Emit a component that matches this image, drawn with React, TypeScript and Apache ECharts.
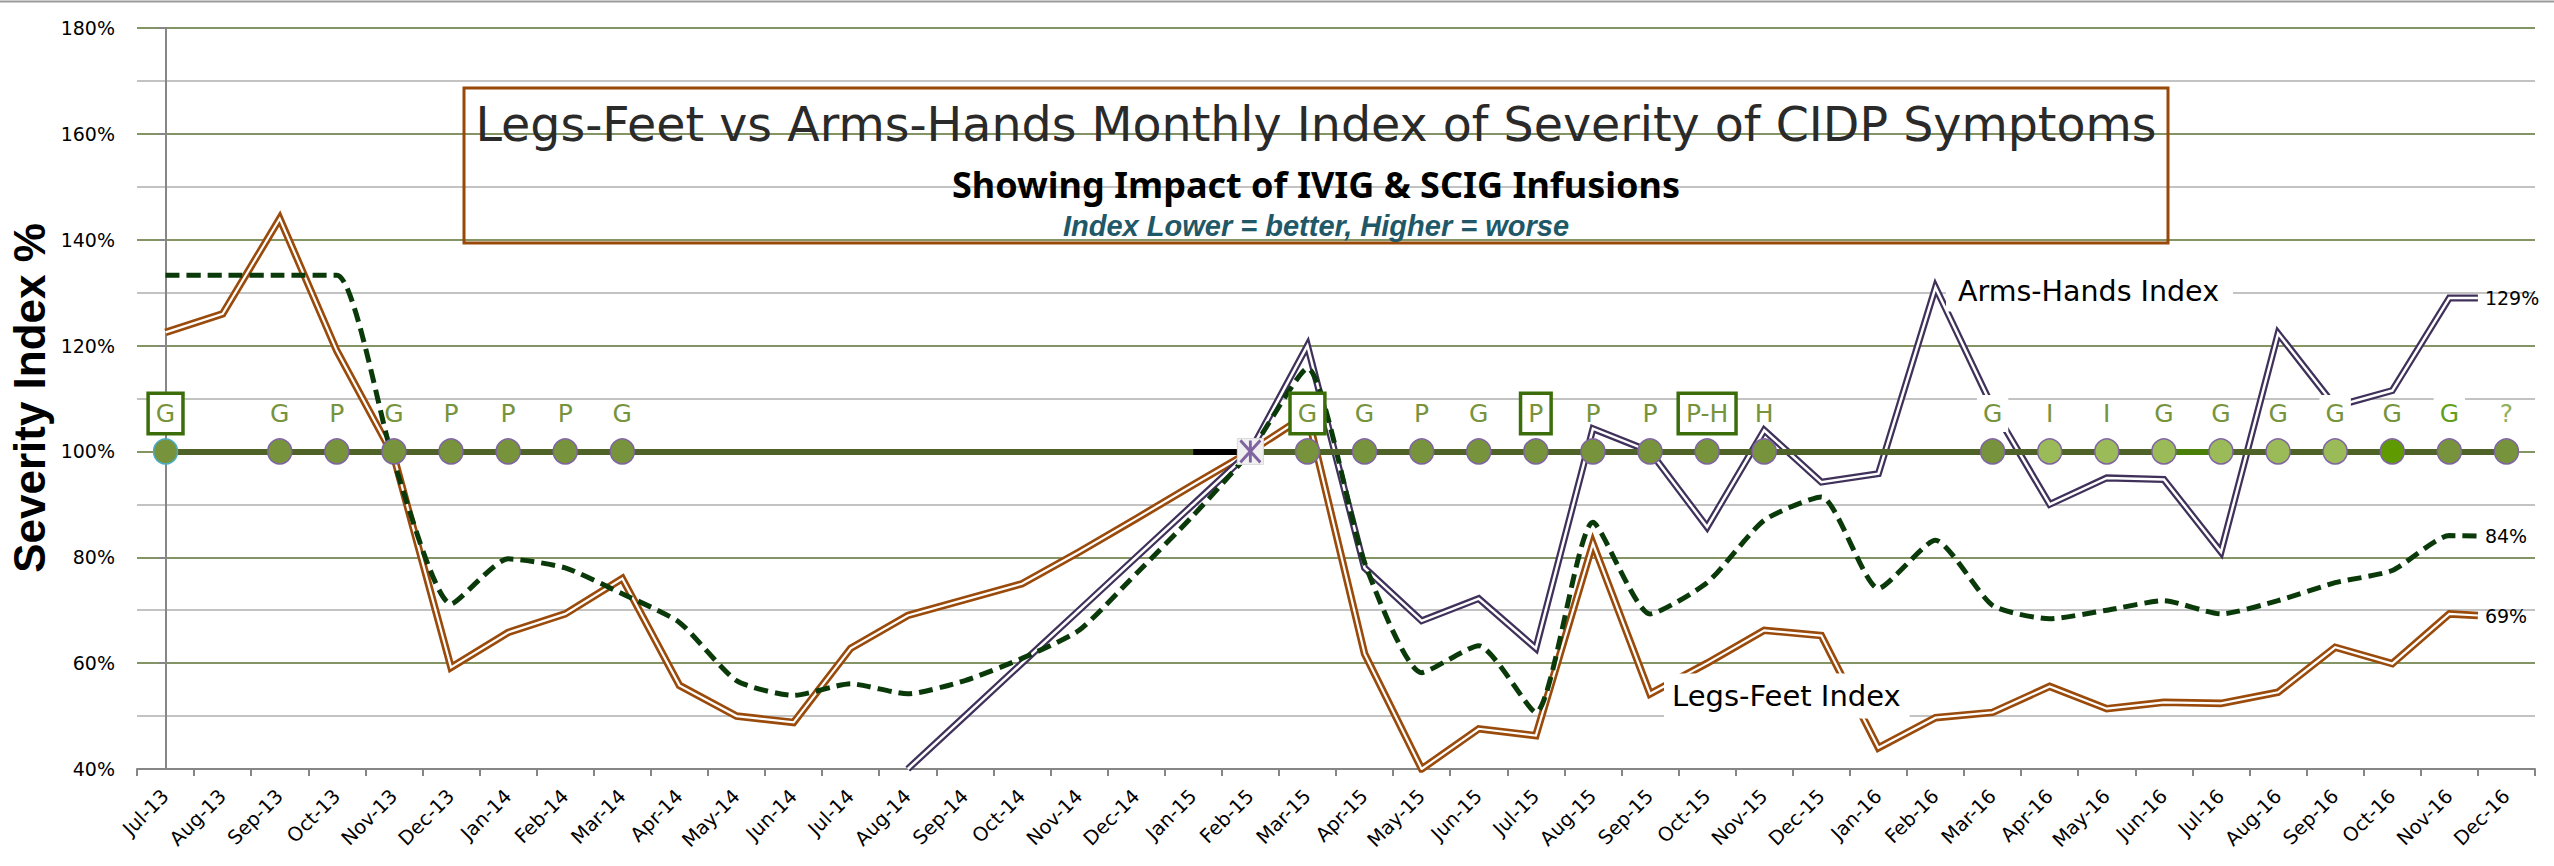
import { useEffect, useRef } from 'react';
import * as echarts from 'echarts';

// ---------- data ----------
const months = [
  'Jul-13', 'Aug-13', 'Sep-13', 'Oct-13', 'Nov-13', 'Dec-13',
  'Jan-14', 'Feb-14', 'Mar-14', 'Apr-14', 'May-14', 'Jun-14', 'Jul-14', 'Aug-14', 'Sep-14', 'Oct-14', 'Nov-14', 'Dec-14',
  'Jan-15', 'Feb-15', 'Mar-15', 'Apr-15', 'May-15', 'Jun-15', 'Jul-15', 'Aug-15', 'Sep-15', 'Oct-15', 'Nov-15', 'Dec-15',
  'Jan-16', 'Feb-16', 'Mar-16', 'Apr-16', 'May-16', 'Jun-16', 'Jul-16', 'Aug-16', 'Sep-16', 'Oct-16', 'Nov-16', 'Dec-16',
];

const legsFeet = [
  122.5, 126, 144, 119, 99, 59.2,
  65.8, 69.3, 76, 55.8, 50, 48.8, 62.8, 69, 72, 75, 81, 87.3,
  93.7, 100, 107, 61.8, 40, 47.6, 46.3, 82.6, 54.2, 60, 66.2, 65.2,
  44, 49.7, 50.7, 55.6, 51.4, 52.6, 52.4, 54.5, 63, 59.9, 69.3, 69,
];

const armsHands = [
  null, null, null, null, null, null,
  null, null, null, null, null, null, null, 40, 50, 60, 70, 80,
  90, 100, 120, 78, 68, 72.2, 62.8, 104.3, 100, 85.7, 104, 94.2,
  95.8, 131, 108.3, 90, 95, 94.7, 81, 122.3, 108.5, 111.5, 129, 129,
];

const overallIndex = [
  133.3, 133.3, 133.3, 133.3, 98, 71.2,
  79.7, 78, 73.1, 67.7, 56.7, 53.9, 56.1, 54.2, 56.7, 60.9, 66.2, 76.9,
  87.9, 100, 115.7, 79, 58.2, 63.3, 50.7, 86.6, 69.3, 75.2, 87, 91.4,
  74.1, 83.2, 70.9, 68.4, 70, 71.8, 69.3, 71.8, 75.2, 77.5, 84.1, 84,
];

// infusion codes shown above the 100% baseline ('' = no infusion marker)
const infusionCodes = [
  'G', '', 'G', 'P', 'G', 'P',
  'P', 'P', 'G', '', '', '', '', '', '', '', '', '',
  '', '', 'G', 'G', 'P', 'G', 'P', 'P', 'P', 'P-H', 'H', '',
  '', '', 'G', 'I', 'I', 'G', 'G', 'G', 'G', 'G', 'G', '?',
];
const boxedMonths = ['Jul-13', 'Mar-15', 'Jul-15', 'Oct-15'];
const whiteBgMonths = ['Mar-16', 'Sep-16', 'Nov-16'];
const transitionMonth = 'Feb-15';
const baselineLevel = 100;
const yTicks = { min: 40, max: 180, step: 20 };

// ---------- styles ----------
const FONT = "'DejaVu Sans', sans-serif";
const BROWN = '#9A4B0B';
const PURPLE = '#40315A';
const DASH = '#0A3A0A';
const OLIVE = '#4F6228';
const LETTER = '#77933C';

const markerFill: Record<string, string> = {
  'Apr-16': '#9BBB59', 'May-16': '#9BBB59', 'Jun-16': '#9BBB59',
  'Jul-16': '#9BBB59', 'Aug-16': '#9BBB59', 'Sep-16': '#9BBB59',
  'Oct-16': '#5F9A00',
};
const markerBorder: Record<string, string> = { 'Jul-13': '#4BACC6' };
const letterColor: Record<string, string> = { 'Nov-16': '#62A01A', 'Dec-16': '#93B060' };

function toLinePoints(values: (number | null)[]) {
  const pts: [number, number][] = [];
  const n = values.length;
  values.forEach((v, i) => {
    if (v != null && i < n - 1) pts.push([i, v]);
  });
  // last month's value ends the line half a category early (as in the reference)
  pts.push([n - 1.5, values[n - 1] as number]);
  return pts;
}

const endLabel = {
  show: true, distance: 7, color: '#000', fontSize: 19, fontFamily: FONT,
  formatter: (p: any) => `${Math.round(p.value[1])}%`,
};

function doubleLine(name: string, values: (number | null)[], color: string, outer: number, inner: number) {
  const data = toLinePoints(values);
  return [
    {
      name, type: 'line', xAxisIndex: 1, data, symbol: 'none', z: 3,
      lineStyle: { color, width: outer, join: 'miter' },
      endLabel,
    },
    {
      name: name + ' core', type: 'line', xAxisIndex: 1, data, symbol: 'none', z: 3,
      lineStyle: { color: '#fff', width: inner, join: 'miter' },
    },
  ];
}

export default function App() {
  const ref = useRef<HTMLDivElement>(null);

  useEffect(() => {
    if (!ref.current) return;
    const chart = echarts.init(ref.current, null, { renderer: 'svg' });

    const markerData = months
      .map((m, i) => ({ m, code: infusionCodes[i] }))
      .filter((d) => d.code)
      .map(({ m, code }) => {
        const boxed = boxedMonths.includes(m);
        const whiteBg = whiteBgMonths.includes(m);
        return {
          value: [m, baselineLevel],
          itemStyle: {
            color: markerFill[m] || '#77933C',
            borderColor: markerBorder[m] || '#8064A2',
            borderWidth: 1.5,
            opacity: 1,
          },
          label: {
            show: true,
            formatter: code,
            position: 'inside',
            offset: [0, -38],
            color: letterColor[m] || LETTER,
            fontSize: 25,
            fontFamily: FONT,
            padding: [6, 6, 6, 6],
            backgroundColor: boxed || whiteBg ? '#fff' : 'transparent',
            borderColor: boxed ? '#3B6E0A' : 'transparent',
            borderWidth: boxed ? 3.5 : 0,
          },
        };
      });

    const option: any = {
      animation: false,
      backgroundColor: '#fff',
      grid: { left: 137, right: 19, top: 28, bottom: 97, containLabel: false },
      xAxis: [
        {
          type: 'category', data: months, boundaryGap: true,
          axisLine: { onZero: false, lineStyle: { color: '#868686', width: 2 } },
          axisTick: { show: true, interval: 0, length: 7, lineStyle: { color: '#868686', width: 2 } },
          axisLabel: { interval: 0, rotate: 45, margin: 24, fontSize: 19.5, color: '#000', fontFamily: FONT },
          splitLine: { show: false },
        },
        { type: 'value', min: -0.5, max: months.length - 0.5, show: false },
      ],
      yAxis: {
        type: 'value', min: yTicks.min, max: yTicks.max, interval: yTicks.step,
        axisLine: { show: true, lineStyle: { color: '#868686', width: 2 } },
        axisTick: { show: true, length: 7, lineStyle: { color: '#868686', width: 2 } },
        axisLabel: { formatter: '{value}%', fontSize: 19, margin: 22, color: '#000', fontFamily: FONT },
        splitLine: { show: true, lineStyle: { color: '#5C7032', width: 1.5 } },
        minorTick: { show: false, splitNumber: 2 },
        minorSplitLine: { show: true, lineStyle: { color: '#C3C3C3', width: 2 } },
      },
      series: [
        {
          name: 'Baseline', type: 'scatter', data: [], z: 2, silent: true,
          markLine: {
            silent: true, symbol: 'none', label: { show: false },
            lineStyle: { type: 'solid', color: OLIVE, width: 6 },
            data: [
              [{ coord: [months[0], baselineLevel] }, { coord: [months[months.length - 1], baselineLevel] }],
              [{ coord: ['Jan-15', baselineLevel], lineStyle: { color: '#000', width: 6, type: 'solid' } }, { coord: ['Feb-15', baselineLevel] }],
              [{ coord: ['Jun-16', baselineLevel], lineStyle: { color: '#4A800A', width: 6, type: 'solid' } }, { coord: ['Jul-16', baselineLevel] }],
            ],
          },
        },
        ...doubleLine('Legs-Feet Index', legsFeet, BROWN, 7.5, 2.2),
        ...doubleLine('Arms-Hands Index', armsHands, PURPLE, 7, 2.5),
        {
          name: 'Overall Index', type: 'line', xAxisIndex: 1, data: toLinePoints(overallIndex),
          symbol: 'none', smooth: 0.2, z: 3,
          lineStyle: { color: DASH, width: 5, type: [14, 7] },
          endLabel,
        },
        {
          name: 'Infusions', type: 'scatter', symbol: 'circle', symbolSize: [24, 25], z: 5,
          data: markerData,
        },
        {
          name: 'Transition bg', type: 'scatter', symbol: 'rect', symbolSize: 26, z: 5,
          itemStyle: { color: '#F0F0F0', borderColor: '#DADADA', borderWidth: 1, opacity: 1 },
          data: [[transitionMonth, baselineLevel]],
        },
        {
          name: 'Transition', type: 'scatter', symbol: 'path://M0 0L20 22M20 0L0 22M10 0L10 22',
          symbolSize: [20, 22], z: 6,
          itemStyle: { color: 'none', borderColor: '#8064A2', borderWidth: 3, opacity: 1 },
          data: [[transitionMonth, baselineLevel]],
        },
      ],
      graphic: [
        { type: 'line', shape: { x1: 0, y1: 1.5, x2: 2554, y2: 1.5 }, style: { stroke: '#9A9A9A', lineWidth: 2 }, z: 10 },
        { type: 'rect', shape: { x: 464, y: 88, width: 1704, height: 155 }, style: { fill: 'none', stroke: '#984807', lineWidth: 3 }, z: 10 },
        {
          type: 'text', x: 1316, y: 124, z: 10,
          style: { text: 'Legs-Feet vs Arms-Hands Monthly Index of Severity of CIDP Symptoms', fontSize: 47.5, fontWeight: 'normal', fontFamily: FONT, fill: '#2A2A2A', align: 'center', verticalAlign: 'middle' },
        },
        {
          type: 'text', x: 1316, y: 184, z: 10,
          style: { text: 'Showing Impact of IVIG & SCIG Infusions', fontSize: 36, fontWeight: 'bold', fontFamily: "'Noto Sans', sans-serif", fill: '#000', align: 'center', verticalAlign: 'middle' },
        },
        {
          type: 'text', x: 1316, y: 226, z: 10,
          style: { text: 'Index Lower = better, Higher = worse', fontSize: 29, fontWeight: 'bold', fontStyle: 'italic', fontFamily: "'Liberation Sans', Arial, sans-serif", fill: '#215868', align: 'center', verticalAlign: 'middle' },
        },
        {
          type: 'text', x: 29, y: 398, rotation: Math.PI / 2, z: 10,
          style: { text: 'Severity Index %', fontSize: 44, fontWeight: 'bold', fontFamily: "'Liberation Sans', Arial, sans-serif", fill: '#000', align: 'center', verticalAlign: 'middle' },
        },
        {
          type: 'text', x: 1946, y: 291, z: 10,
          style: { text: 'Arms-Hands Index', fontSize: 28.5, fontFamily: FONT, fill: '#000', align: 'left', verticalAlign: 'middle', backgroundColor: '#fff', padding: [6, 14, 6, 12] },
        },
        {
          type: 'text', x: 1664, y: 696, z: 10,
          style: { text: 'Legs-Feet Index', fontSize: 29, fontFamily: FONT, fill: '#000', align: 'left', verticalAlign: 'middle', backgroundColor: '#fff', padding: [8, 9, 8, 8] },
        },
      ],
    };

    chart.setOption(option);
    return () => chart.dispose();
  }, []);

  return <div ref={ref} style={{ position: 'absolute', left: 0, top: 0, width: 2554, height: 866 }} />;
}
